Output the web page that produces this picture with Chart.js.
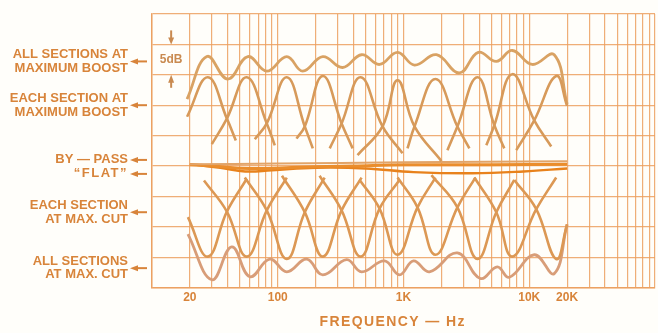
<!DOCTYPE html>
<html>
<head>
<meta charset="utf-8">
<script src="https://cdn.jsdelivr.net/npm/chart.js@4.4.1/dist/chart.umd.min.js"></script>
<style>
  html, body { margin: 0; padding: 0; background: #fffefa; }
  #eqChart { display: block; }
</style>
</head>
<body>
<canvas id="eqChart" width="658" height="333"></canvas>
<script>
// --- values: [frequency Hz, level dB] ---
const boostSections = [
    [[19, 8.1], [27.8, 14.6], [39.4, 7.8], [46.4, 4.2]],
    [[29.9, 3.6], [39.4, 7.8], [56.7, 14.6], [81.8, 7.0], [94.7, 3.4]],
    [[65.7, 4.4], [81.8, 7.0], [118, 14.6], [164, 6.5], [190, 2.9]],
    [[141, 4.5], [164, 6.5], [228, 14.8], [322, 7.0], [394, 2.9]],
    [[259, 2.9], [322, 7.0], [456, 14.6], [681, 6.5], [982, 2.1]],
    [[431, 1.8], [681, 6.5], [897, 14.1], [1223, 6.5], [2003, 0.8]],
    [[1076, 2.9], [1223, 6.5], [1795, 14.3], [2683, 6.5], [3341, 2.9]],
    [[2235, 2.6], [2683, 6.5], [3867, 14.6], [5275, 6.7], [6331, 2.9]],
    [[4557, 3.4], [5275, 6.7], [7330, 15.1], [10955, 7.5], [14950, 3.2]],
    [[7884, 2.6], [10955, 7.5], [16380, 14.8], [20000, 9.9]]
];

const cutSections = [
    [[19.3, -8.4], [27.8, -14.9], [39.4, -7.5], [56.7, -2.1]],
    [[25.9, -2.4], [39.4, -7.5], [56.7, -14.9], [81.8, -7.3], [118, -1.9]],
    [[54.7, -1.9], [81.8, -7.3], [118, -15.3], [164, -7.6], [236, -1.9]],
    [[108, -1.6], [164, -7.6], [228, -14.9], [322, -7.3], [464, -1.9]],
    [[215, -1.6], [322, -7.3], [456, -14.9], [645, -7.0], [929, -2.3]],
    [[448, -2.3], [645, -7.0], [897, -14.6], [1292, -6.8], [1795, -1.9]],
    [[897, -1.9], [1292, -6.8], [1795, -14.6], [2683, -6.8], [3728, -1.9]],
    [[1668, -1.5], [2683, -6.8], [3867, -15.3], [5472, -7.6], [7603, -2.3]],
    [[3660, -1.9], [5472, -7.6], [7330, -14.9], [11367, -7.1], [16380, -1.9]],
    [[7603, -2.3], [11367, -7.1], [16380, -15.3], [20000, -9.6]]
];

const allBoost = [
    [19, 11.0], [27.3, 18.0], [40.1, 14.3], [57.8, 18.0], [81.8, 15.6], [118, 18.0],
    [158, 15.6], [228, 18.0], [328, 16.2], [464, 18.3], [645, 16.7], [897, 18.7],
    [1223, 16.6], [1828, 18.3], [2782, 15.3], [3937, 18.7], [5472, 17.2], [7330, 19.0],
    [10563, 16.7], [15790, 18.3], [20000, 10.2]
];

const allCut = [
    [19.3, -11.2], [29.9, -18.7], [43.1, -13.3], [60, -18.2], [86.4, -15.3], [118, -17.4],
    [170, -15.3], [228, -17.9], [353, -15.4], [464, -17.4], [707, -15.6], [929, -17.9],
    [1200, -15.6], [1608, -17.4], [2683, -14.3], [4084, -18.5], [5572, -16.6], [6939, -18.3],
    [10955, -14.6], [15790, -17.7], [20000, -9.6]
];

const bypass = [[20, 0.3], [100, 0.4], [1000, 0.6], [20000, 0.8]];
const flat = [
    [20, 0.3], [35, -0.3], [55, -0.9], [90, -0.7], [200, -0.3], [500, -0.4],
    [1200, -1.0], [3500, -1.2], [9000, -0.9], [20000, -0.4]
];
const flatRetrace = [[20, 0.2], [30, 0], [60, -0.4], [150, -0.2], [400, 0], [1000, 0.2], [5000, 0.2], [20000, 0.3]];

const tickValues = [20, 100, 1000, 10000, 20000];
const tickNames = ['20', '100', '1K', '10K', '20K'];

const sideLabels = [
    ['ALL SECTIONS AT', 'MAXIMUM BOOST'],
    ['EACH SECTION AT', 'MAXIMUM BOOST'],
    ['BY — PASS'],
    ['“FLAT”'],
    ['EACH SECTION', 'AT MAX. CUT'],
    ['ALL SECTIONS', 'AT MAX. CUT']
];

// --- styling ---
const ink = '#d8843a';
const gridColor = 'rgba(236, 160, 95, 0.85)';
const FONT = '"Liberation Sans", Arial, sans-serif';

// log paper: 1..9 in every decade from 10 Hz to 100 kHz
const gridFreqs = [];
for (let dec = 10; dec < 100000; dec *= 10) {
    for (let m = 1; m < 10; m++) gridFreqs.push(m * dec);
}
gridFreqs.push(100000);

const toXY = pts => pts.map(p => ({ x: p[0], y: p[1] }));
const curve = (pts, color, width) => ({
    data: toXY(pts),
    borderColor: color,
    borderWidth: width,
    showLine: true,
    pointRadius: 0,
    fill: false,
    tension: 0.42
});

const datasets = [
    ...boostSections.map(s => curve(s, '#d79a5a', 2.6)),
    ...cutSections.map(s => curve(s, '#dc9854', 2.6)),
    curve(allBoost, '#d9a263', 2.8),
    curve(allCut, '#d89d78', 2.8),
    curve(bypass, '#e2a468', 2),
    curve(flatRetrace, '#ea8d2c', 3),
    curve(flat, '#e8821c', 2.4)
];

// --- labels to the left of the grid, 5dB marker and axis title ---
const sideNotes = {
    id: 'sideNotes',
    afterDraw(chart) {
        const { ctx, scales: { x, y }, chartArea } = chart;
        const levels = [17.2, 10, 1.0, -1.3, -7.6, -16.8];
        ctx.save();
        ctx.fillStyle = ink;
        ctx.strokeStyle = ink;
        ctx.textAlign = 'right';
        ctx.textBaseline = 'middle';
        sideLabels.forEach((lines, i) => {
            const py = y.getPixelForValue(levels[i]);
            const off = (lines.length - 1) * 6.75;
            ctx.font = 'bold 13px ' + FONT;
            ctx.letterSpacing = lines[0].startsWith('“') ? '1.5px' : '0px';
            lines.forEach((t, k) => ctx.fillText(t, 128, py - off + k * 13.5));
            ctx.beginPath();
            ctx.moveTo(130, py);
            ctx.lineTo(138, py - 3);
            ctx.lineTo(138, py + 3);
            ctx.closePath();
            ctx.fill();
            ctx.lineWidth = 2;
            ctx.beginPath();
            ctx.moveTo(137, py);
            ctx.lineTo(147, py);
            ctx.stroke();
        });

        // 5 dB scale marker
        const mx = x.getPixelForValue(14.2);
        const top = y.getPixelForValue(20);
        const bot = y.getPixelForValue(15);
        ctx.fillStyle = '#c98a50';
        ctx.strokeStyle = '#c98a50';
        ctx.letterSpacing = '0px';
        ctx.font = 'bold 12px ' + FONT;
        ctx.textAlign = 'center';
        ctx.fillText('5dB', mx, (top + bot) / 2);
        ctx.lineWidth = 2;
        ctx.beginPath(); ctx.moveTo(mx, top - 14); ctx.lineTo(mx, top - 6); ctx.stroke();
        ctx.beginPath(); ctx.moveTo(mx - 3, top - 7); ctx.lineTo(mx + 3, top - 7); ctx.lineTo(mx, top); ctx.closePath(); ctx.fill();
        ctx.beginPath(); ctx.moveTo(mx, bot + 6); ctx.lineTo(mx, bot + 13); ctx.stroke();
        ctx.beginPath(); ctx.moveTo(mx - 3, bot + 8); ctx.lineTo(mx + 3, bot + 8); ctx.lineTo(mx, bot); ctx.closePath(); ctx.fill();

        // axis title
        ctx.fillStyle = ink;
        ctx.font = 'bold 14px ' + FONT;
        ctx.letterSpacing = '1.4px';
        ctx.fillText('FREQUENCY — Hz', x.getPixelForValue(820), chartArea.bottom + 35);
        ctx.restore();
    }
};

new Chart(document.getElementById('eqChart'), {
    type: 'scatter',
    data: { datasets },
    options: {
        responsive: false,
        devicePixelRatio: 1,
        animation: false,
        layout: { padding: { left: 152, right: 2, top: 14, bottom: 25 } },
        plugins: { legend: { display: false }, tooltip: { enabled: false } },
        scales: {
            x: {
                type: 'logarithmic',
                min: 10,
                max: 100000,
                afterBuildTicks: axis => { axis.ticks = gridFreqs.map(v => ({ value: v })); },
                ticks: {
                    autoSkip: false,
                    maxRotation: 0,
                    padding: 3,
                    color: ink,
                    font: { family: FONT, size: 12, weight: 'bold' },
                    callback: v => {
                        const i = tickValues.indexOf(v);
                        return i >= 0 ? tickNames[i] : '';
                    }
                },
                grid: { color: gridColor, lineWidth: 1.2, drawTicks: false },
                border: { color: gridColor, width: 1.5 }
            },
            y: {
                min: -20,
                max: 25,
                ticks: { display: false, stepSize: 5 },
                grid: { color: gridColor, lineWidth: 1.2, drawTicks: false },
                border: { color: gridColor, width: 1.5 }
            }
        }
    },
    plugins: [sideNotes]
});
</script>
</body>
</html>
